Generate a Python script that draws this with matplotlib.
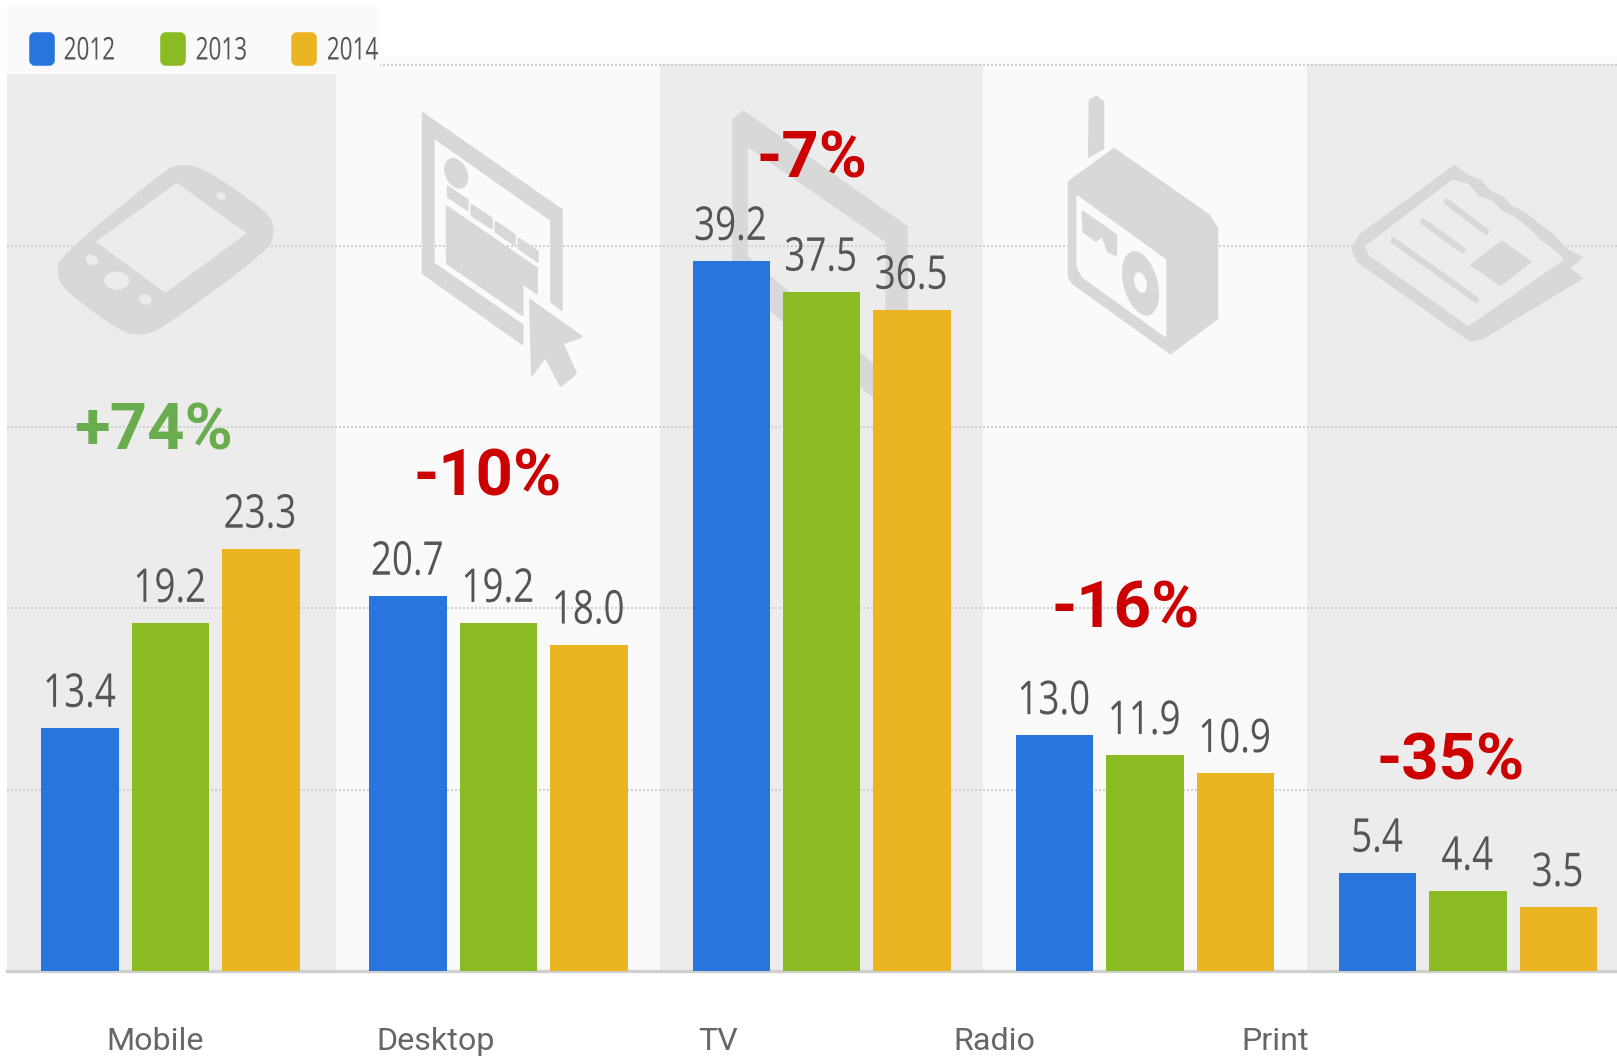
import numpy as np
import matplotlib
matplotlib.use('Agg')
import matplotlib.pyplot as plt
from matplotlib.patches import Polygon, Ellipse, Rectangle, FancyBboxPatch
from matplotlib.patheffects import AbstractPathEffect
from matplotlib.transforms import Affine2D

# Values
categories = ['Mobile', 'Desktop', 'TV', 'Radio', 'Print']
years = ['2012', '2013', '2014']
values_2012 = [13.4, 20.7, 39.2, 13.0, 5.4]
values_2013 = [19.2, 19.2, 37.5, 11.9, 4.4]
values_2014 = [23.3, 18.0, 36.5, 10.9, 3.5]
changes = ['+74%', '-10%', '-7%', '-16%', '-35%']
grid_values = [10, 20, 30, 40, 50]

colors = ['#2975DE', '#8ABB23', '#EBB423']
ICON = '#D8D8D8'
DARK_BAND = '#ECECEC'
LIGHT_BAND = '#FAFAFA'

W, H = 1617, 1058
BASE_Y = 970.5
PX_PER_UNIT = 18.1
GROUP_PX = 323.2
X0_PX = 170.5

fig = plt.figure(figsize=(W / 100, H / 100), dpi=100, facecolor='white')
ax = fig.add_axes([0, 0, 1, 1])
ax.set_xlim(-X0_PX / GROUP_PX, (W - X0_PX) / GROUP_PX)
ax.set_ylim(-(H - BASE_Y) / PX_PER_UNIT, BASE_Y / PX_PER_UNIT)
ax.axis('off')

# pixel coordinates, y going down, for the decoration
px = Affine2D().scale(1, -1).translate(0, H)


class Squeeze(AbstractPathEffect):
    # no condensed font installed, so narrow the glyphs around the middle of the text
    def __init__(self, sx):
        super().__init__()
        self.sx = sx

    def draw_path(self, renderer, gc, tpath, affine, rgbFace=None):
        cx = tpath.get_extents().x0 + tpath.get_extents().width / 2
        t = Affine2D().translate(-cx, 0).scale(self.sx, 1).translate(cx, 0)
        renderer.draw_path(gc, tpath, t + affine, rgbFace)


def smooth(pts, n=2):
    # corner cutting, the icons have round corners
    for _ in range(n):
        out = []
        for a, b in zip(pts, pts[1:] + pts[:1]):
            out.append((0.75 * a[0] + 0.25 * b[0], 0.75 * a[1] + 0.25 * b[1]))
            out.append((0.25 * a[0] + 0.75 * b[0], 0.25 * a[1] + 0.75 * b[1]))
        pts = out
    return pts


def poly(pts, color=ICON, z=2):
    ax.add_patch(Polygon(pts, closed=True, fc=color, ec=color, lw=1.5, joinstyle='round',
                         transform=px, zorder=z))


def line(pts, lw, color=ICON, z=2):
    pts = np.array(pts, dtype=float)
    ax.plot(pts[:, 0], pts[:, 1], color=color, lw=lw, transform=px, zorder=z,
            solid_capstyle='round', solid_joinstyle='round')


def ell(cx, cy, w, h, angle, color=ICON, z=2):
    ax.add_patch(Ellipse((cx, cy), w, h, angle=angle, fc=color, ec='none', transform=px, zorder=z))


def c1(pts):
    return [(x / 2.613, y / 3) for x, y in pts]


def c3(pts):
    return [(1000 + x / 2.541, 50 + y / 3) for x, y in pts]


def c4(pts):
    return [(640 + x / 3, 50 + y / 3) for x, y in pts]


# background bands
band_edges = [7, 336, 660, 983, 1307, W]
for i in range(5):
    col = DARK_BAND if i % 2 == 0 else LIGHT_BAND
    ax.add_patch(Rectangle((band_edges[i], 64), band_edges[i + 1] - band_edges[i], BASE_Y - 64,
                           fc=col, ec='none', transform=px, zorder=0))
ax.add_patch(Rectangle((380, 56), W - 380, 8, fc='#FCFCFC', ec='none', transform=px, zorder=0))

# gridlines
for v in grid_values:
    ax.axhline(v, xmin=7 / W, color='#CFCFCF', lw=1.44, ls=(0, (1, 1)), zorder=1)

# phone icon
poly(smooth(c1([(470, 495), (530, 505), (700, 640), (715, 690), (700, 750), (420, 985), (370, 1003),
                (320, 995), (170, 870), (150, 820), (160, 770), (430, 515)]), 2))
poly(c1([(462, 552), (640, 700), (432, 875), (255, 725)]), DARK_BAND)
ell(305 / 2.613, 842 / 3, 25, 18, 0, DARK_BAND)
ell(240 / 2.613, 780 / 3, 13, 10, 30, DARK_BAND)
ell(380 / 2.613, 898 / 3, 13, 10, 30, DARK_BAND)
ell(578 / 2.613, 588 / 3, 10, 7, 30, DARK_BAND)

# desktop icon
poly(c1([(1105, 340), (1468, 630), (1468, 930), (1440, 905), (1440, 660), (1133, 412),
         (1133, 790), (1365, 975), (1365, 1032), (1105, 820)]))
ell(1192 / 2.613, 520 / 3, 22, 32, -25)
for p in ([(1170, 560), (1222, 600), (1222, 630), (1170, 590)],
          [(1232, 615), (1285, 655), (1285, 685), (1232, 645)],
          [(1295, 665), (1345, 705), (1345, 735), (1295, 695)],
          [(1355, 715), (1405, 755), (1405, 785), (1355, 745)],
          [(1168, 620), (1403, 805), (1403, 880), (1365, 850), (1365, 945), (1168, 790)],
          [(1385, 900), (1520, 1010), (1470, 1030), (1505, 1120), (1465, 1158), (1425, 1070), (1390, 1125)]):
    poly(c1(p))

# tv icon, mostly behind the bars
poly(c4([(280, 210), (310, 185), (800, 530), (800, 790), (740, 790), (740, 575), (320, 285),
         (320, 640), (280, 640)]))
poly(c4([(320, 620), (700, 945), (700, 1040), (320, 720)]))

# radio icon
poly(c3([(228, 150), (245, 140), (262, 155), (262, 295), (226, 320)]))
poly(c3([(175, 395), (290, 297), (530, 495), (552, 535), (552, 805), (433, 910), (185, 700), (175, 680)]))
poly(c3([(197, 440), (420, 630), (420, 858), (210, 680), (197, 650)]), LIGHT_BAND)
poly(c3([(210, 485), (295, 555), (295, 615), (275, 605), (260, 558), (243, 572), (212, 545)]))
ell(1000 + 357 / 2.541, 50 + 700 / 3, 34, 66, -15)
ell(1000 + 357 / 2.541, 50 + 698 / 3, 12, 21, -15, LIGHT_BAND)

# newspaper icon
poly(c3([(1155, 348), (1185, 375), (1220, 392), (1245, 425), (1275, 440), (1300, 470), (1335, 490),
         (1365, 520), (1405, 555), (1440, 600), (1478, 622), (1445, 655), (1478, 685), (1225, 865),
         (1195, 872), (910, 635), (895, 595), (915, 555)]))
poly(c3([(1150, 392), (1190, 405), (1215, 440), (1250, 455), (1275, 485), (1310, 505), (1345, 540),
         (1375, 575), (1405, 600), (1430, 628), (1190, 825), (940, 615), (930, 590)]), DARK_BAND)
line(c3([(1135, 455), (1235, 545)]), 4.5)
line(c3([(1075, 515), (1175, 600)]), 4.5)
line(c3([(1000, 572), (1210, 750)]), 4.5)
poly(c3([(1275, 575), (1348, 635), (1272, 705), (1198, 645)]))

# bars, the first group sits a little further from the rest
x = np.arange(len(categories), dtype=float)
x[1:] += 0.015
pitch = 90.4 / GROUP_PX
width = 77.5 / GROUP_PX
series = [values_2012, values_2013, values_2014]
for i, vals in enumerate(series):
    pos = x + (i - 1) * pitch
    ax.bar(pos, vals, width=width, color=colors[i], zorder=3)
    for xx, v in zip(pos, vals):
        ax.annotate(f'{v:.1f}', (xx, v), xytext=(-0.7, 15.2), textcoords='offset points', ha='center',
                    va='baseline', fontsize=33.5, family='Open Sans', color='#555555', zorder=4,
                    path_effects=[Squeeze(0.79)])

# baseline
ax.axhline(0, color='#CFCFCF', lw=2.4, xmin=7 / W, zorder=2.5)

# change labels
change_x = [153, 488, 812, 1126, 1451]
change_y = [449, 495, 178, 627, 780]
for c, cx, cy in zip(changes, change_x, change_y):
    ax.text(cx, cy, c, transform=px, ha='center', va='baseline', fontsize=47, family='Roboto',
            fontweight='bold', color='#6AAD4F' if c.startswith('+') else '#CC0000', zorder=6)

# category labels, offset from the bars as in the source
label_x = [155, 436, 718, 994, 1275]
for c, lx in zip(categories, label_x):
    ax.text(lx, 1041.5, c, transform=px, ha='center', va='center', fontsize=23.2, family='Roboto',
            color='#666666', zorder=6)

# legend
ax.add_patch(Rectangle((7, 7), 373, 67, fc='#FAFAFA', ec='none', transform=px, zorder=5))
swatch_x = [29, 160, 291]
text_x = [89.5, 221.5, 352.5]
for y, sx, tx, col in zip(years, swatch_x, text_x, colors):
    ax.add_patch(FancyBboxPatch((sx + 3, 35), 20, 28, boxstyle='round,pad=0,rounding_size=3', fc=col,
                                ec=col, lw=4, mutation_scale=1, transform=px, zorder=6))
    ax.text(tx, 51.5, y, transform=px, ha='center', va='center', fontsize=22.5, family='Open Sans',
            color='#555555', zorder=6, path_effects=[Squeeze(0.72)])

fig.savefig('out.png', dpi=100, facecolor='white')
